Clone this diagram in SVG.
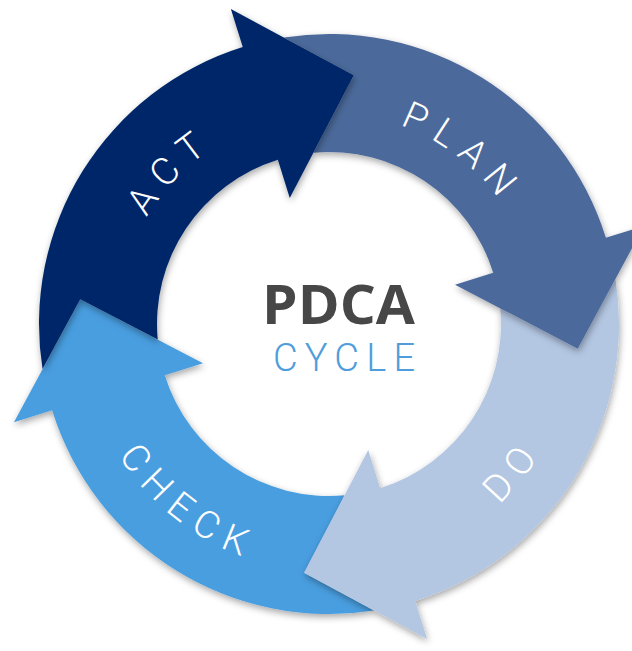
<svg xmlns="http://www.w3.org/2000/svg" xmlns:xlink="http://www.w3.org/1999/xlink" width="632" height="651" viewBox="0 0 632 651">
  <style>
    .act { fill: #05286a; }
    .plan { fill: #4b6a9b; }
    .do { fill: #b3c6e2; }
    .check { fill: #489ee0; }
    .label {
      font-family: Roboto, "Open Sans", "Liberation Sans", sans-serif;
      font-weight: 300;
      font-size: 38px;
      letter-spacing: 10px;
      fill: #ffffff;
      text-anchor: middle;
    }
    .title {
      font-family: "Open Sans", Roboto, "Liberation Sans", sans-serif;
      font-weight: 700;
      font-size: 54px;
      fill: #474747;
      text-anchor: middle;
    }
    .subtitle {
      font-family: Roboto, "Open Sans", "Liberation Sans", sans-serif;
      font-weight: 300;
      font-size: 38px;
      fill: #4f9ddc;
      text-anchor: middle;
    }
  </style>
  <defs>
    <filter id="soft" x="-20%" y="-20%" width="140%" height="140%">
      <feDropShadow dx="1" dy="3" stdDeviation="3.5" flood-color="#000000" flood-opacity="0.35"/>
    </filter>
    <!-- one quarter of the ring: notched tail, curved band, arrowhead; drawn around (0,0) -->
    <path id="arrow" d="M -45.10 -286.47 A 290 290 0 0 1 276.88 -86.24 L 315.07 -98.13 L 248.77 24.83 L 126.03 -39.25 L 164.22 -51.15 A 172 172 0 0 0 -15.62 -171.28 L 24.83 -248.77 Z"/>
    <!-- baselines for the curved labels -->
    <path id="arc-top" d="M 118 324 A 211 211 0 1 1 540 324 A 211 211 0 1 1 118 324"/>
    <path id="arc-bottom" d="M 81 324 A 248 248 0 1 0 577 324 A 248 248 0 1 0 81 324"/>
  </defs>

  <g id="check">
    <g filter="url(#soft)">
      <use xlink:href="#arrow" href="#arrow" class="check" transform="translate(329 324) rotate(180)"/>
    </g>
    <text class="label"><textPath xlink:href="#arc-bottom" href="#arc-bottom" startOffset="14.4%">CHECK</textPath></text>
  </g>

  <g id="do">
    <g filter="url(#soft)">
      <use xlink:href="#arrow" href="#arrow" class="do" transform="translate(329 324) rotate(90)"/>
    </g>
    <text class="label"><textPath xlink:href="#arc-bottom" href="#arc-bottom" startOffset="39.3%">DO</textPath></text>
  </g>

  <g id="plan">
    <g filter="url(#soft)">
      <use xlink:href="#arrow" href="#arrow" class="plan" transform="translate(329 324)"/>
    </g>
    <text class="label"><textPath xlink:href="#arc-top" href="#arc-top" startOffset="35.5%">PLAN</textPath></text>
  </g>

  <g id="act">
    <g filter="url(#soft)">
      <use xlink:href="#arrow" href="#arrow" class="act" transform="translate(329 324) rotate(270)"/>
    </g>
    <text class="label"><textPath xlink:href="#arc-top" href="#arc-top" startOffset="12.2%">ACT</textPath></text>
  </g>

  <g id="title">
    <text class="title" x="338.5" y="324" textLength="153" lengthAdjust="spacingAndGlyphs">PDCA</text>
    <text class="subtitle" x="344" y="371" textLength="142" lengthAdjust="spacing">CYCLE</text>
  </g>
</svg>
